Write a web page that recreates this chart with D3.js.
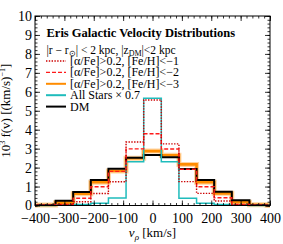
<!DOCTYPE html>
<html>
<head>
<meta charset="utf-8">
<title>Eris Galactic Velocity Distributions</title>
<script src="https://d3js.org/d3.v7.min.js"></script>
<style>
  body { margin: 0; background: #fff; }
  text { font-family: "Liberation Serif", "Times New Roman", serif; }
</style>
</head>
<body>
<div id="chart"></div>
<script>
// bin centres (km/s), 60 km/s wide
let binCenters = [-360, -300, -240, -180, -120, -60, 0, 60, 120, 180, 240, 300, 360];
let binWidth = 60;

// 10^3 f(v) per series
let feh1 = [0.01, 0.03, 0.20, 0.63, 1.25, 3.35, 5.57, 3.25, 1.26, 0.64, 0.24, 0.03, 0.01];
let feh2 = [0.02, 0.05, 0.38, 0.99, 1.80, 2.99, 3.79, 2.98, 1.91, 0.99, 0.41, 0.06, 0.01];
let feh3 = [0.03, 0.15, 0.62, 1.23, 1.82, 2.49, 2.87, 2.65, 2.17, 1.23, 0.64, 0.17, 0.04];
let allStars = [0.00, 0.02, 0.05, 0.12, 0.40, 2.31, 5.66, 2.31, 0.38, 0.12, 0.05, 0.02, 0.00];
let dm = [0.03, 0.25, 0.71, 1.34, 1.94, 2.52, 2.67, 2.55, 1.92, 1.34, 0.73, 0.28, 0.03];

let xTicks = [-400, -300, -200, -100, 0, 100, 200, 300, 400];
let yTicks = [0, 1, 2, 3, 4, 5, 6, 7, 8, 9, 10];

let W = 283, H = 244;
let margin = {top: 16, right: 13, bottom: 38.5, left: 35};

let svg = d3.select("#chart").append("svg")
    .attr("width", W).attr("height", H);

let x = d3.scaleLinear().domain([-400, 400]).range([margin.left, W - margin.right]);
let y = d3.scaleLinear().domain([0, 10]).range([H - margin.bottom, margin.top]);

// step line for a histogram
function stepPath(vals) {
    let pts = [[-400, 0]];
    vals.forEach(function(v, i) {
        let lo = binCenters[i] - binWidth / 2, hi = binCenters[i] + binWidth / 2;
        pts.push([lo, v], [hi, v]);
    });
    pts.push([binCenters[binCenters.length - 1] + binWidth / 2, 0], [400, 0]);
    return d3.line().x(d => x(d[0])).y(d => y(d[1]))(pts);
}

let series = [
    {name: "feh3", vals: feh3, color: "#ffd4a0", width: 5, dash: null},
    {name: "feh3", vals: feh3, color: "#ff8c00", width: 2.6, dash: null},
    {name: "dm", vals: dm, color: "#000", width: 2, dash: null},
    {name: "all", vals: allStars, color: "#1fbcbc", width: 1.5, dash: null},
    {name: "feh2", vals: feh2, color: "#ff1a1a", width: 1.4, dash: "4,2"},
    {name: "feh1", vals: feh1, color: "#cc0000", width: 1.4, dash: "1.4,1.4"}
];

let plot = svg.append("g");
series.forEach(function(s) {
    plot.append("path")
        .attr("d", stepPath(s.vals))
        .attr("fill", "none")
        .attr("stroke", s.color)
        .attr("stroke-width", s.width)
        .attr("stroke-dasharray", s.dash)
        .attr("stroke-linejoin", "miter");
});

// axes, ticks pointing inward on all four sides
let xMinor = d3.range(-400, 401, 20);
let yMinor = d3.range(0, 10.01, 0.2);

function styleAxis(g) {
    g.select(".domain").remove();
    g.selectAll("line").attr("stroke", "#000").attr("stroke-width", 0.8);
}

svg.append("g")
    .attr("transform", "translate(0," + y(0) + ")")
    .call(d3.axisBottom(x).tickValues(xMinor).tickSize(-2.5).tickFormat(""))
    .call(styleAxis);
svg.append("g")
    .attr("transform", "translate(0," + y(0) + ")")
    .call(d3.axisBottom(x).tickValues(xTicks).tickSizeInner(-5).tickSizeOuter(0).tickPadding(8))
    .call(styleAxis)
    .selectAll("text").attr("font-size", "14px").attr("fill", "#000")
    .attr("font-family", "Liberation Serif");

svg.append("g")
    .attr("transform", "translate(0," + y(10) + ")")
    .call(d3.axisTop(x).tickValues(xMinor).tickSize(-2.5).tickFormat(""))
    .call(styleAxis);
svg.append("g")
    .attr("transform", "translate(0," + y(10) + ")")
    .call(d3.axisTop(x).tickValues(xTicks).tickSize(-5).tickFormat(""))
    .call(styleAxis);

svg.append("g")
    .attr("transform", "translate(" + x(-400) + ",0)")
    .call(d3.axisLeft(y).tickValues(yMinor).tickSize(-2.5).tickFormat(""))
    .call(styleAxis);
svg.append("g")
    .attr("transform", "translate(" + x(-400) + ",0)")
    .call(d3.axisLeft(y).tickValues(yTicks).tickSizeInner(-5).tickSizeOuter(0).tickPadding(3))
    .call(styleAxis)
    .selectAll("text").attr("font-size", "14px").attr("fill", "#000")
    .attr("font-family", "Liberation Serif");

svg.append("g")
    .attr("transform", "translate(" + x(400) + ",0)")
    .call(d3.axisRight(y).tickValues(yMinor).tickSize(-2.5).tickFormat(""))
    .call(styleAxis);
svg.append("g")
    .attr("transform", "translate(" + x(400) + ",0)")
    .call(d3.axisRight(y).tickValues(yTicks).tickSize(-5).tickFormat(""))
    .call(styleAxis);

// frame
svg.append("rect")
    .attr("x", x(-400)).attr("y", y(10))
    .attr("width", x(400) - x(-400)).attr("height", y(0) - y(10))
    .attr("fill", "none").attr("stroke", "#000").attr("stroke-width", 1);

// axis labels
let xl = svg.append("text")
    .attr("x", (x(-400) + x(400)) / 2).attr("y", 237)
    .attr("text-anchor", "middle").attr("font-size", "13px");
xl.append("tspan").attr("font-style", "italic").text("v");
xl.append("tspan").attr("font-style", "italic").attr("font-size", "9px").attr("dy", 3).text("ρ");
xl.append("tspan").attr("dy", -3).text(" [km/s]");

let yl = svg.append("text")
    .attr("transform", "translate(10," + ((y(0) + y(10)) / 2) + ") rotate(-90)")
    .attr("text-anchor", "middle").attr("font-size", "13px");
yl.append("tspan").text("10");
yl.append("tspan").attr("font-size", "8px").attr("dy", -5).text("3");
yl.append("tspan").attr("dy", 5).text(" f(v) [(km/s)");
yl.append("tspan").attr("font-size", "8px").attr("dy", -5).text("−1");
yl.append("tspan").attr("dy", 5).text("]");

// title and legend
svg.append("text")
    .attr("x", 46.5).attr("y", 37)
    .attr("font-size", "12.5px").attr("font-weight", "bold")
    .text("Eris Galactic Velocity Distributions");

let sub = svg.append("text")
    .attr("x", 46.5).attr("y", 53.5).attr("font-size", "11.5px");
sub.append("tspan").text("|r − r");
sub.append("tspan").attr("font-size", "8px").attr("dy", 2).text("⊙");
sub.append("tspan").attr("dy", -2).text("| < 2 kpc, |z");
sub.append("tspan").attr("font-size", "8px").attr("dy", 2).text("DM");
sub.append("tspan").attr("dy", -2).text("|<2 kpc");

let legendItems = [
    {label: "[α/Fe]>0.2, [Fe/H]<−1", color: "#cc0000", width: 1.4, dash: "1.4,1.4"},
    {label: "[α/Fe]>0.2, [Fe/H]<−2", color: "#ff1a1a", width: 1.4, dash: "4,2"},
    {label: "[α/Fe]>0.2, [Fe/H]<−3", color: "#ff8c00", width: 2, dash: null},
    {label: "All Stars × 0.7", color: "#1fbcbc", width: 2, dash: null},
    {label: "DM", color: "#000", width: 2, dash: null}
];

let lg = svg.append("g");
legendItems.forEach(function(d, i) {
    let yy = 61 + i * 11.4;
    lg.append("line")
        .attr("x1", 46).attr("x2", 66).attr("y1", yy).attr("y2", yy)
        .attr("stroke", d.color).attr("stroke-width", d.width)
        .attr("stroke-dasharray", d.dash);
    lg.append("text")
        .attr("x", 70).attr("y", yy + 4)
        .attr("font-size", "12px")
        .text(d.label);
});
</script>
</body>
</html>
